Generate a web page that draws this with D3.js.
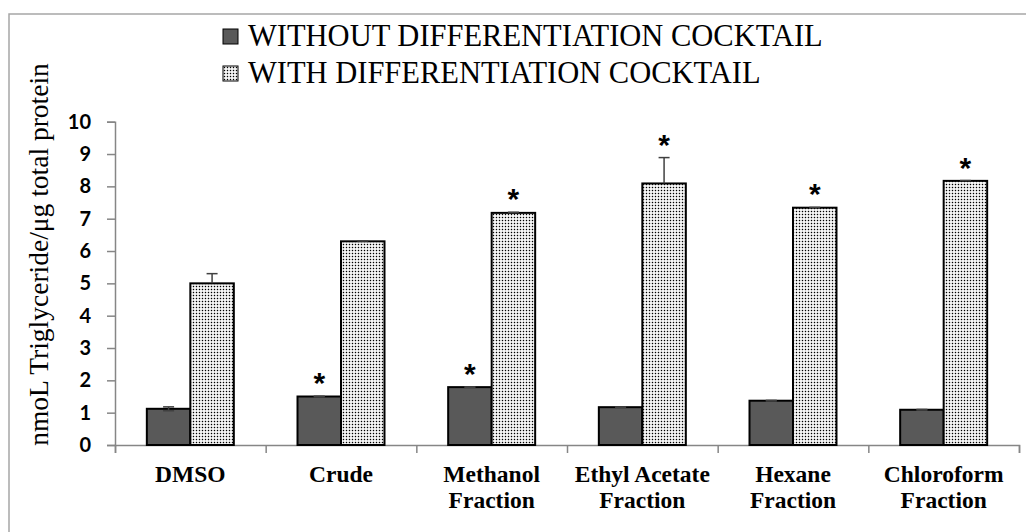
<!DOCTYPE html>
<html>
<head>
<meta charset="utf-8">
<script src="https://cdn.jsdelivr.net/npm/d3@7"></script>
<style>
  body { margin: 0; background: #fff; }
  svg { display: block; }
  .serif { font-family: "Liberation Serif", serif; }
  .sans { font-family: "Liberation Sans", sans-serif; }
</style>
</head>
<body>
<svg id="chart" width="1026" height="532"></svg>
<script>
// categories (multi-line labels)
const categories = [
  ["DMSO"],
  ["Crude"],
  ["Methanol", "Fraction"],
  ["Ethyl Acetate", "Fraction"],
  ["Hexane", "Fraction"],
  ["Chloroform", "Fraction"]
]
const seriesNames = ["WITHOUT DIFFERENTIATION COCKTAIL", "WITH DIFFERENTIATION COCKTAIL"]

// values
const withoutValues = [1.12, 1.50, 1.79, 1.17, 1.37, 1.09]
const withoutErrors = [0.06, 0.01, 0.01, 0.01, 0.01, 0.01]
const withValues = [5.00, 6.30, 7.18, 8.09, 7.34, 8.17]
const withErrors = [0.30, 0.01, 0.02, 0.80, 0.01, 0.01]
// significance markers (*)
const withoutStars = [false, true, true, false, false, false]
const withStars = [false, false, true, true, true, true]

const yTicks = [0, 1, 2, 3, 4, 5, 6, 7, 8, 9, 10]
const yTitle = "nmoL Triglyceride/\u03bcg total protein"

const svg = d3.select("#chart")
const W = 1026, H = 532
const plot = {left: 115, right: 1019, top: 121.7, bottom: 445}

// pattern for "with" bars
let defs = svg.append("defs")
let pat = defs.append("pattern").attr("id", "dots")
  .attr("patternUnits", "userSpaceOnUse").attr("width", 3).attr("height", 3)
pat.append("rect").attr("width", 3).attr("height", 3).attr("fill", "#fff")
pat.append("rect").attr("x", 0.8).attr("y", 0.8).attr("width", 1.4).attr("height", 1.4).attr("fill", "#000")

const fills = ["#595959", "url(#dots)"]

// outer frame (only top/left visible)
svg.append("rect")
  .attr("x", 9).attr("y", 14).attr("width", W + 20).attr("height", H + 20)
  .attr("fill", "none").attr("stroke", "#a6a6a6").attr("stroke-width", 1.5)

//scales
let x = d3.scaleBand().domain(d3.range(categories.length)).range([plot.left, plot.right]).padding(0)
let xs = d3.scaleBand().domain([0, 1]).range([0, x.bandwidth()]).paddingInner(0).paddingOuter(0.732)
let y = d3.scaleLinear().domain([0, 10]).range([plot.bottom, plot.top])

// y axis
let yAxis = svg.append("g").attr("transform", `translate(${plot.left},0)`)
  .call(d3.axisLeft(y).tickValues(yTicks).tickSize(8).tickSizeOuter(8).tickPadding(16))
yAxis.selectAll("path, line").attr("stroke", "#868686").attr("stroke-width", 1.5)
yAxis.selectAll("text").attr("font-family", "Lato, sans-serif")
  .attr("font-weight", "bold").attr("font-size", 20).attr("fill", "#000")

// x axis (category boundary ticks)
let xb = d3.scaleLinear().domain([0, categories.length]).range([plot.left, plot.right])
let xAxis = svg.append("g").attr("transform", `translate(0,${plot.bottom})`)
  .call(d3.axisBottom(xb).ticks(categories.length).tickSize(8).tickSizeOuter(8).tickFormat(""))
xAxis.selectAll("path, line").attr("stroke", "#868686").attr("stroke-width", 1.5)

// category labels
let lab = svg.append("g").attr("class", "serif").selectAll("text").data(categories).enter().append("text")
  .attr("x", (d, i) => x(i) + x.bandwidth() / 2)
  .attr("y", 481.5)
  .attr("text-anchor", "middle")
  .attr("font-weight", "bold").attr("font-size", 23.5).attr("fill", "#000")
lab.selectAll("tspan").data(d => d).enter().append("tspan")
  .attr("x", function () { return d3.select(this.parentNode).attr("x") })
  .attr("dy", (d, i) => i === 0 ? 0 : 26.5)
  .text(d => d)

// bars
let series = [
  {vals: withoutValues, errs: withoutErrors, stars: withoutStars},
  {vals: withValues, errs: withErrors, stars: withStars}
]
series.forEach((s, si) => {
  let g = svg.append("g")
  g.selectAll("rect").data(s.vals).enter().append("rect")
    .attr("x", (d, i) => x(i) + xs(si))
    .attr("y", d => y(d))
    .attr("width", xs.bandwidth())
    .attr("height", d => y(0) - y(d))
    .attr("fill", fills[si])
    .attr("stroke", "#000").attr("stroke-width", 2)

  // error bars
  let cap = 5.5
  let eg = svg.append("g").attr("stroke", "#404040").attr("stroke-width", 1.5)
  s.vals.forEach((v, i) => {
    let cx = x(i) + xs(si) + xs.bandwidth() / 2
    let hi = y(v + s.errs[i])
    let lo = si === 0 ? y(v - s.errs[i]) : y(v)
    eg.append("line").attr("x1", cx).attr("x2", cx).attr("y1", hi).attr("y2", lo)
    eg.append("line").attr("x1", cx - cap).attr("x2", cx + cap).attr("y1", hi).attr("y2", hi)
    if (si === 0) eg.append("line").attr("x1", cx - cap).attr("x2", cx + cap).attr("y1", lo).attr("y2", lo)
  })

  // stars
  svg.append("g").attr("class", "sans").selectAll("text")
    .data(s.vals.map((v, i) => ({v, i, e: s.errs[i], on: s.stars[i]})).filter(d => d.on))
    .enter().append("text")
    .attr("x", d => x(d.i) + xs(si) + xs.bandwidth() / 2)
    .attr("y", d => y(d.v + d.e) - 3)
    .attr("text-anchor", "middle")
    .attr("font-weight", "bold").attr("font-size", 30).attr("fill", "#000")
    .text("*")
})

// y title
svg.append("text").attr("class", "serif")
  .attr("transform", `translate(48,${254.5}) rotate(-90)`)
  .attr("text-anchor", "middle")
  .attr("font-size", 27.5).attr("fill", "#000")
  .text(yTitle)

// legend
let leg = svg.append("g").selectAll("g").data(seriesNames).enter().append("g")
  .attr("transform", (d, i) => `translate(223,${29 + i * 37})`)
leg.append("rect").attr("width", 15).attr("height", 15)
  .attr("fill", (d, i) => fills[i]).attr("stroke", "#000").attr("stroke-width", 1)
leg.append("text").attr("class", "serif").attr("x", 25).attr("y", 16.5)
  .attr("font-size", 30.5).attr("fill", "#000")
  .text(d => d)
</script>
</body>
</html>
